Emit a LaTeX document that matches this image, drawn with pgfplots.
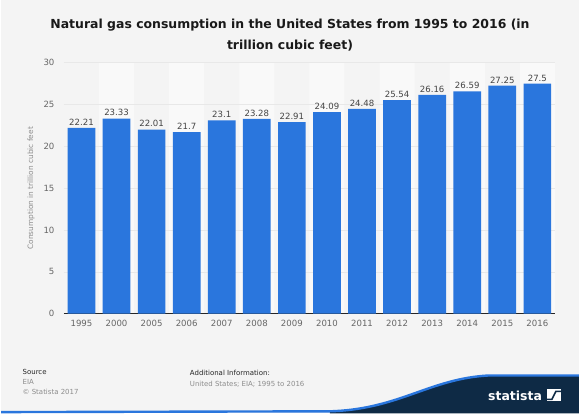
\documentclass[border=0pt]{standalone}
\usepackage{pgfplots}
\pgfplotsset{compat=1.18}
\usepackage{fontspec}
\setmainfont{DejaVu Sans}
\definecolor{bgc}{HTML}{F4F4F4}
\definecolor{stripec}{HTML}{F9F9F9}
\definecolor{barc}{HTML}{2A76DD}
\definecolor{navy}{HTML}{0E2A45}
\definecolor{tickc}{HTML}{666666}
\definecolor{valc}{HTML}{444444}
\pgfplotsset{chartbox/.style={
  at={(63pt,-315pt)}, anchor=south west,
  scale only axis, width=493pt, height=252pt,
  xmin=-0.5, xmax=13.5, ymin=0, ymax=30,
  ybar, bar shift=0pt}}
\begin{document}
\begin{tikzpicture}
\fill[bgc] (0pt,0pt) rectangle (580pt,-415pt);
% title
\node[align=center, font=\fontsize{12.5}{21}\selectfont\bfseries, text=black!90] at (290pt,-35.5pt)
  {Natural gas consumption in the United States from 1995 to 2016 (in\\trillion cubic feet)};
% background stripes
\begin{axis}[chartbox, hide axis]
\addplot[fill=stripec, draw=none, bar width=1] coordinates {
(1,30) (3,30) (5,30) (7,30) (9,30) (11,30) (13,30)};
\end{axis}
\begin{axis}[
  chartbox,
  xtick={0,...,13},
  xticklabels={1995,2000,2005,2006,2007,2008,2009,2010,2011,2012,2013,2014,2015,2016},
  ytick={0,5,...,30},
  ymajorgrids,
  grid style={color=black!9, line width=0.5pt},
  major tick length=0pt,
  axis x line*=bottom, axis y line*=left,
  x axis line style={draw=black!85, line width=0.8pt, -},
  y axis line style={draw=none},
  ticklabel style={font=\fontsize{8.6}{10}\selectfont, text=tickc},
  /pgf/number format/assume math mode=true,
  yticklabel style={xshift=-6pt},
  xticklabel style={yshift=-3pt},
  ylabel={Consumption in trillion cubic feet},
  ylabel style={font=\fontsize{7.4}{9}\selectfont, text=black!45,
    at={(axis description cs:-0.0669,0.5)}, anchor=center},
]
\addplot[fill=barc, draw=none, bar width=0.79,
  nodes near coords,
  every node near coord/.append style={font=\fontsize{8.6}{10}\selectfont, text=valc, yshift=-1pt}] coordinates {
(0,22.21) (1,23.33) (2,22.01) (3,21.7) (4,23.1) (5,23.28) (6,22.91)
(7,24.09) (8,24.48) (9,25.54) (10,26.16) (11,26.59) (12,27.25) (13,27.5)};
\end{axis}
% footer
\node[anchor=west, font=\fontsize{7}{8}\selectfont, text=black!85] at (18pt,-373pt) {Source};
\node[anchor=west, font=\fontsize{7}{8}\selectfont, text=black!45] at (18pt,-384pt) {EIA};
\node[anchor=west, font=\fontsize{7}{8}\selectfont, text=black!45] at (18pt,-394pt) {© Statista 2017};
\node[anchor=west, font=\fontsize{7}{8}\selectfont, text=black!85] at (186pt,-374pt) {Additional Information:};
\node[anchor=west, font=\fontsize{7}{8}\selectfont, text=black!45] at (186pt,-386pt) {United States; EIA; 1995 to 2016};
% wave
\fill[navy] (330pt,-415pt) -- (330pt,-413pt) .. controls (400pt,-411pt) and (430pt,-380pt) .. (490pt,-377pt) -- (580pt,-377pt) -- (580pt,-415pt) -- cycle;
\draw[barc, line width=2.4pt] (0pt,-413.8pt) -- (330pt,-413pt) .. controls (400pt,-411pt) and (430pt,-380pt) .. (490pt,-377pt) -- (580pt,-377pt);
\node[font=\fontsize{12.5}{14}\selectfont\bfseries, text=white, inner sep=0pt] at (516pt,-397pt) {statista};
\fill[white] (548pt,-391pt) rectangle (562pt,-403pt);
\draw[navy, line width=1.6pt] (548pt,-401pt) -- (553pt,-401pt) -- (557pt,-393pt) -- (562pt,-393pt);
\end{tikzpicture}
\end{document}
